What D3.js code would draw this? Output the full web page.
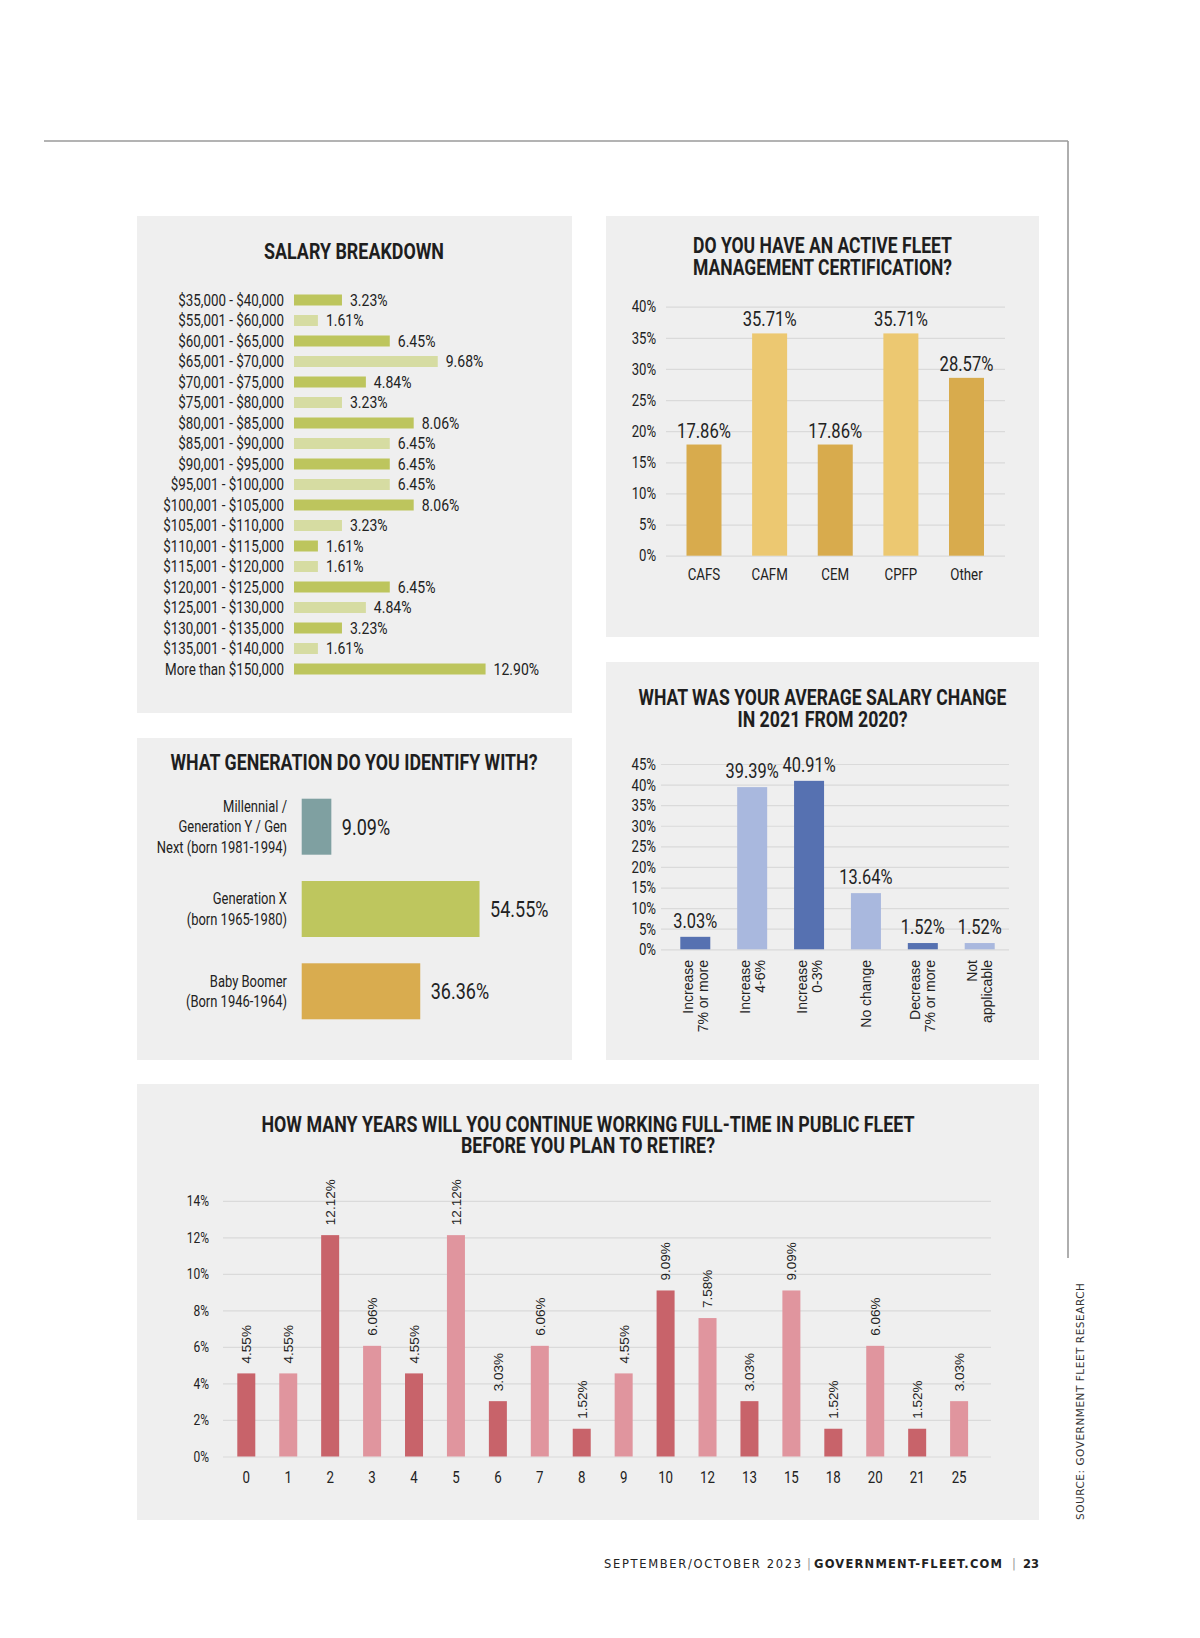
<!DOCTYPE html>
<html>
<head>
<meta charset="utf-8">
<script src="https://cdn.jsdelivr.net/npm/d3@7"></script>
<style>
    body { margin: 0; background: #ffffff; }
    .cond { font-family: Roboto, "Liberation Sans", sans-serif; fill: #222; }
    .title { font-weight: bold; font-size: 21.5px; fill: #1e1e1e; }
    .plain { font-family: "Liberation Sans", Arial, sans-serif; fill: #222; }
    .grid line { stroke: #dadada; stroke-width: 1.2; }
    .grid path { display: none; }
</style>
</head>
<body>
<div id="Chart_1"></div>
<script>

// salary breakdown
let salaryLabels = ["$35,000 - $40,000", "$55,001 - $60,000", "$60,001 - $65,000", "$65,001 - $70,000",
    "$70,001 - $75,000", "$75,001 - $80,000", "$80,001 - $85,000", "$85,001 - $90,000", "$90,001 - $95,000",
    "$95,001 - $100,000", "$100,001 - $105,000", "$105,001 - $110,000", "$110,001 - $115,000",
    "$115,001 - $120,000", "$120,001 - $125,000", "$125,001 - $130,000", "$130,001 - $135,000",
    "$135,001 - $140,000", "More than $150,000"];
let salaryValues = [3.23, 1.61, 6.45, 9.68, 4.84, 3.23, 8.06, 6.45, 6.45, 6.45, 8.06, 3.23, 1.61, 1.61, 6.45, 4.84, 3.23, 1.61, 12.90];

// certification
let certLabels = ["CAFS", "CAFM", "CEM", "CPFP", "Other"];
let certValues = [17.86, 35.71, 17.86, 35.71, 28.57];
let certTicks = [0, 5, 10, 15, 20, 25, 30, 35, 40];

// generation
let genLabels = [["Millennial /", "Generation Y / Gen", "Next (born 1981-1994)"],
    ["Generation X", "(born 1965-1980)"],
    ["Baby Boomer", "(Born 1946-1964)"]];
let genValues = [9.09, 54.55, 36.36];

// salary change
let changeLabels = [["Increase", "7% or more"], ["Increase", "4-6%"], ["Increase", "0-3%"],
    ["No change"], ["Decrease", "7% or more"], ["Not", "applicable"]];
let changeValues = [3.03, 39.39, 40.91, 13.64, 1.52, 1.52];
let changeTicks = [0, 5, 10, 15, 20, 25, 30, 35, 40, 45];

// years to retire
let yearLabels = ["0", "1", "2", "3", "4", "5", "6", "7", "8", "9", "10", "12", "13", "15", "18", "20", "21", "25"];
let yearValues = [4.55, 4.55, 12.12, 6.06, 4.55, 12.12, 3.03, 6.06, 1.52, 4.55, 9.09, 7.58, 3.03, 9.09, 1.52, 6.06, 1.52, 3.03];
let yearTicks = [0, 2, 4, 6, 8, 10, 12, 14];

let pct = (v) => v.toFixed(2) + "%";

// squeeze the text horizontally, the magazine uses a condensed face
function condense(sel, f) {
    sel.each(function() {
        let w = this.getComputedTextLength();
        d3.select(this)
            .attr("textLength", w * f)
            .attr("lengthAdjust", "spacingAndGlyphs")
    })
}

let svg = d3.select("#Chart_1")
    .append("svg")
    .attr("width", 1200)
    .attr("height", 1638)

svg.append("rect").attr("width", 1200).attr("height", 1638).attr("fill", "#ffffff")

// page rules
svg.append("line").attr("x1", 44).attr("x2", 1068).attr("y1", 141).attr("y2", 141)
    .attr("stroke", "#9a9a9a").attr("stroke-width", 1.6)
svg.append("line").attr("x1", 1068).attr("x2", 1068).attr("y1", 141).attr("y2", 1258)
    .attr("stroke", "#9a9a9a").attr("stroke-width", 1.6)

// panels
let panels = [[137, 216, 435, 497], [606, 216, 433, 421], [137, 738, 435, 322], [606, 662, 433, 398], [137, 1084, 902, 436]];
svg.selectAll("rect.panel")
    .data(panels)
    .enter()
    .append("rect")
    .attr("class", "panel")
    .attr("x", d => d[0]).attr("y", d => d[1])
    .attr("width", d => d[2]).attr("height", d => d[3])
    .attr("fill", "#efefef")

function title(lines, widths, cx, y0, lh) {
    lines.forEach((l, i) => {
        svg.append("text")
            .attr("class", "cond title")
            .attr("text-anchor", "middle")
            .attr("x", cx)
            .attr("y", y0 + i * lh)
            .attr("textLength", widths[i])
            .attr("lengthAdjust", "spacingAndGlyphs")
            .text(l)
    })
}

// ---------- SALARY BREAKDOWN ----------
title(["SALARY BREAKDOWN"], [180], 354, 259, 0);

let sy = d3.scalePoint().domain(salaryLabels).range([300, 669]);
let sx = d3.scaleLinear().domain([0, 13]).range([294, 294 + 13 * 14.85]);

svg.selectAll("rect.sal")
    .data(salaryValues)
    .enter()
    .append("rect")
    .attr("class", "sal")
    .attr("x", sx(0))
    .attr("y", (d, i) => sy(salaryLabels[i]) - 5.5)
    .attr("width", d => sx(d) - sx(0))
    .attr("height", 11)
    .attr("fill", (d, i) => i % 2 == 0 ? "#bdc55d" : "#d6dca2")

svg.selectAll("text.salLab")
    .data(salaryLabels)
    .enter()
    .append("text")
    .attr("class", "cond")
    .attr("x", 284)
    .attr("y", d => sy(d))
    .attr("dy", "0.36em")
    .attr("text-anchor", "end")
    .style("font-size", "16.5px")
    .text(d => d)
    .call(condense, 0.81)

svg.selectAll("text.salVal")
    .data(salaryValues)
    .enter()
    .append("text")
    .attr("class", "cond")
    .attr("x", d => sx(d) + 8)
    .attr("y", (d, i) => sy(salaryLabels[i]))
    .attr("dy", "0.36em")
    .style("font-size", "16.5px")
    .text(d => pct(d))
    .call(condense, 0.85)

// ---------- CERTIFICATION ----------
title(["DO YOU HAVE AN ACTIVE FLEET", "MANAGEMENT CERTIFICATION?"], [259, 259], 822.5, 253, 21.7);

let cx = d3.scalePoint().domain(certLabels).range([704, 966.5]);
let cy = d3.scaleLinear().domain([0, 40]).range([555.7, 306.7]);

svg.append("g")
    .attr("class", "grid")
    .attr("transform", "translate(666,0)")
    .call(d3.axisRight(cy).tickValues(certTicks).tickSize(339).tickFormat(""))

svg.selectAll("text.certTick")
    .data(certTicks)
    .enter()
    .append("text")
    .attr("class", "cond")
    .attr("x", 656).attr("y", d => cy(d)).attr("dy", "0.36em")
    .attr("text-anchor", "end").style("font-size", "16px")
    .text(d => d + "%")
    .call(condense, 0.82)

svg.selectAll("rect.cert")
    .data(certValues)
    .enter()
    .append("rect")
    .attr("x", (d, i) => cx(certLabels[i]) - 17.5)
    .attr("y", d => cy(d))
    .attr("width", 35)
    .attr("height", d => cy(0) - cy(d))
    .attr("fill", (d, i) => (i == 1 || i == 3) ? "#ecc871" : "#d8ab4d")

svg.selectAll("text.certVal")
    .data(certValues)
    .enter()
    .append("text")
    .attr("class", "cond")
    .attr("x", (d, i) => cx(certLabels[i]))
    .attr("y", d => cy(d) - 7)
    .attr("text-anchor", "middle")
    .style("font-size", "20px")
    .text(d => pct(d))
    .call(condense, 0.83)

svg.selectAll("text.certLab")
    .data(certLabels)
    .enter()
    .append("text")
    .attr("class", "cond")
    .attr("x", d => cx(d))
    .attr("y", 580)
    .attr("text-anchor", "middle")
    .style("font-size", "16px")
    .text(d => d)
    .call(condense, 0.83)

// ---------- GENERATION ----------
title(["WHAT GENERATION DO YOU IDENTIFY WITH?"], [367], 354, 770, 0);

let gy = d3.scalePoint().domain([0, 1, 2]).range([826.7, 991.3]);
let gx = d3.scaleLinear().domain([0, 100]).range([301.7, 301.7 + 326]);
let genColors = ["#7fa0a1", "#bec65e", "#d9ac4f"];

svg.selectAll("rect.gen")
    .data(genValues)
    .enter()
    .append("rect")
    .attr("x", gx(0))
    .attr("y", (d, i) => gy(i) - 28)
    .attr("width", d => gx(d) - gx(0))
    .attr("height", 56)
    .attr("fill", (d, i) => genColors[i])

svg.selectAll("text.genVal")
    .data(genValues)
    .enter()
    .append("text")
    .attr("class", "cond")
    .attr("x", d => gx(d) + 10.5)
    .attr("y", (d, i) => gy(i))
    .attr("dy", "0.36em")
    .style("font-size", "22.5px")
    .text(d => pct(d))
    .call(condense, 0.8)

genLabels.forEach((lines, i) => {
    svg.selectAll("text.gl" + i)
        .data(lines)
        .enter()
        .append("text")
        .attr("class", "cond")
        .attr("text-anchor", "end")
        .style("font-size", "16px")
        .attr("x", 287)
        .attr("y", (l, j) => gy(i) + (j - (lines.length - 1) / 2) * 20.7)
        .attr("dy", "0.36em")
        .text(l => l)
        .call(condense, 0.81)
})

// ---------- SALARY CHANGE ----------
title(["WHAT WAS YOUR AVERAGE SALARY CHANGE", "IN 2021 FROM 2020?"], [368, 170], 822.5, 705, 22.3);

let kx = d3.scalePoint().domain(d3.range(changeValues.length)).range([695.3, 979.7]);
let ky = d3.scaleLinear().domain([0, 45]).range([949.3, 764]);

svg.append("g")
    .attr("class", "grid")
    .attr("transform", "translate(661,0)")
    .call(d3.axisRight(ky).tickValues(changeTicks).tickSize(348).tickFormat(""))

svg.selectAll("text.chgTick")
    .data(changeTicks)
    .enter()
    .append("text")
    .attr("class", "cond")
    .attr("x", 656).attr("y", d => ky(d)).attr("dy", "0.36em")
    .attr("text-anchor", "end").style("font-size", "16.5px")
    .text(d => d + "%")
    .call(condense, 0.8)

svg.selectAll("rect.chg")
    .data(changeValues)
    .enter()
    .append("rect")
    .attr("x", (d, i) => kx(i) - 15)
    .attr("y", d => ky(d))
    .attr("width", 30)
    .attr("height", d => ky(0) - ky(d))
    .attr("fill", (d, i) => i % 2 == 0 ? "#5671b1" : "#a9b8de")

svg.selectAll("text.chgVal")
    .data(changeValues)
    .enter()
    .append("text")
    .attr("class", "cond")
    .attr("x", (d, i) => kx(i))
    .attr("y", d => ky(d) - 9)
    .attr("text-anchor", "middle")
    .style("font-size", "21px")
    .text(d => pct(d))
    .call(condense, 0.78)

changeLabels.forEach((lines, i) => {
    let t = svg.append("text").attr("class", "plain")
        .attr("text-anchor", "end").style("font-size", "14px")
        .attr("transform", "translate(" + kx(i) + ",960) rotate(-90)")
    lines.forEach((l, j) => {
        t.append("tspan")
            .attr("x", 0)
            .attr("y", (j - (lines.length - 1) / 2) * 15)
            .attr("dy", "0.36em")
            .text(l)
    })
})

// ---------- YEARS TO RETIRE ----------
title(["HOW MANY YEARS WILL YOU CONTINUE WORKING FULL-TIME IN PUBLIC FLEET", "BEFORE YOU PLAN TO RETIRE?"], [653, 254], 588, 1131.7, 21.7);

let yx = d3.scalePoint().domain(yearLabels).range([246.3, 959.1]);
let yy = d3.scaleLinear().domain([0, 14]).range([1456.5, 1200.8]);

svg.append("g")
    .attr("class", "grid")
    .attr("transform", "translate(223,0)")
    .call(d3.axisRight(yy).tickValues(yearTicks).tickSize(768).tickFormat(""))

svg.selectAll("text.yrTick")
    .data(yearTicks)
    .enter()
    .append("text")
    .attr("class", "cond")
    .attr("x", 209).attr("y", d => yy(d)).attr("dy", "0.36em")
    .attr("text-anchor", "end").style("font-size", "15px")
    .text(d => d + "%")
    .call(condense, 0.8)

svg.selectAll("rect.yr")
    .data(yearValues)
    .enter()
    .append("rect")
    .attr("x", (d, i) => yx(yearLabels[i]) - 9)
    .attr("y", d => yy(d))
    .attr("width", 18)
    .attr("height", d => yy(0) - yy(d))
    .attr("fill", (d, i) => i % 2 == 0 ? "#c8636a" : "#e0959e")

svg.selectAll("text.yrVal")
    .data(yearValues)
    .enter()
    .append("text")
    .attr("class", "plain")
    .attr("transform", (d, i) => "translate(" + yx(yearLabels[i]) + "," + (yy(d) - 10) + ") rotate(-90)")
    .attr("dy", "0.36em")
    .style("font-size", "13.5px")
    .text(d => pct(d))

svg.selectAll("text.yrLab")
    .data(yearLabels)
    .enter()
    .append("text")
    .attr("class", "cond")
    .attr("x", d => yx(d))
    .attr("y", 1483)
    .attr("text-anchor", "middle")
    .style("font-size", "16px")
    .text(d => d)
    .call(condense, 0.83)

// ---------- source + footer ----------
svg.append("text")
    .attr("transform", "translate(1084,1520) rotate(-90)")
    .attr("textLength", 237)
    .style("font-family", "'DejaVu Sans', sans-serif")
    .style("font-size", "10.5px")
    .style("fill", "#333")
    .text("SOURCE: GOVERNMENT FLEET RESEARCH")

let foot = [
    {t: "SEPTEMBER/OCTOBER 2023", x: 604, w: 197, b: "normal", c: "#222"},
    {t: "|", x: 807, w: 2, b: "normal", c: "#999"},
    {t: "GOVERNMENT-FLEET.COM", x: 814, w: 188, b: "bold", c: "#222"},
    {t: "|", x: 1012, w: 2, b: "normal", c: "#999"},
    {t: "23", x: 1023, w: 16, b: "bold", c: "#222"}
];
svg.selectAll("text.foot")
    .data(foot)
    .enter()
    .append("text")
    .attr("x", d => d.x)
    .attr("y", 1568)
    .attr("textLength", d => d.w)
    .style("font-family", "'DejaVu Sans', sans-serif")
    .style("font-size", "11.5px")
    .style("font-weight", d => d.b)
    .style("fill", d => d.c)
    .text(d => d.t)

</script>
</body>
</html>
